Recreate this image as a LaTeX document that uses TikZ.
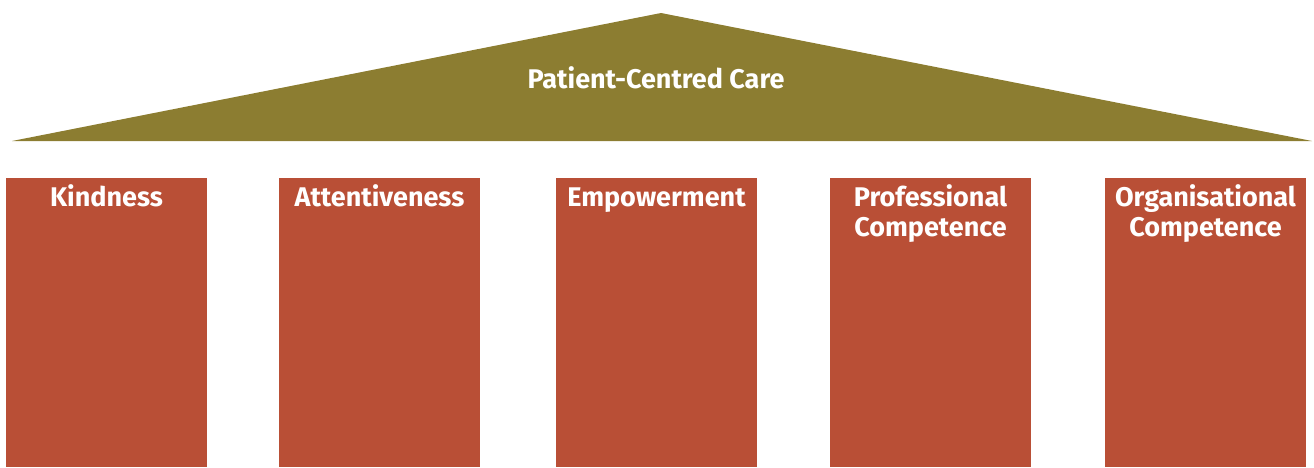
\documentclass[tikz,border=0pt]{standalone}
\usepackage{fontspec}
\setmainfont{Fira Sans}
\definecolor{roofcol}{HTML}{8C7D31}
\definecolor{pillarcol}{HTML}{B94F36}
\tikzset{
  pillar/.style={fill=pillarcol, draw=none, minimum width=201pt, minimum height=289pt, inner sep=0pt},
  lbl/.style={text=white, font=\fontsize{27}{30}\selectfont\bfseries, align=center, anchor=north, inner sep=0pt},
}
\begin{document}
\begin{tikzpicture}[x=1pt,y=-1pt]
\useasboundingbox (0,0) rectangle (1314,467);
\coordinate (rl) at (12,141);
\coordinate (ra) at (661,13);
\coordinate (rr) at (1312,141);
\fill[roofcol] (rl) -- (ra) -- (rr) -- cycle;
\node[lbl] (roof) at (656,66) {\strut Patient-Centred Care};
\node[pillar] (p1) at (106.5,322.5) {};
\node[pillar] (p2) at (379.5,322.5) {};
\node[pillar] (p3) at (656.5,322.5) {};
\node[pillar] (p4) at (930.5,322.5) {};
\node[pillar] (p5) at (1205.5,322.5) {};
\node[lbl] (t1) at ([yshift=-7pt]p1.north) {\strut Kindness};
\node[lbl] (t2) at ([yshift=-7pt]p2.north) {\strut Attentiveness};
\node[lbl] (t3) at ([yshift=-7pt]p3.north) {\strut Empowerment};
\node[lbl] (t4) at ([yshift=-7pt]p4.north) {\strut Professional\\Competence};
\node[lbl] (t5) at ([yshift=-7pt]p5.north) {\strut Organisational\\Competence};
\end{tikzpicture}
\end{document}
